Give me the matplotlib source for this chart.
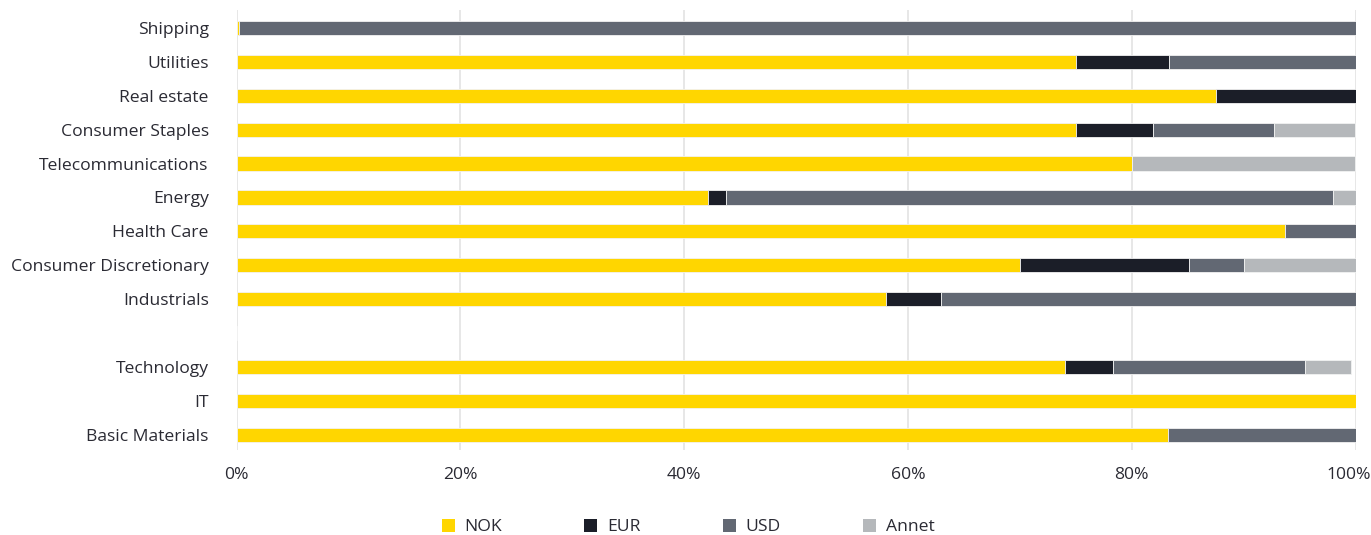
import matplotlib
matplotlib.use("Agg")
import matplotlib.pyplot as plt
import matplotlib.transforms as mtransforms
from matplotlib.patches import Patch
import numpy as np

plt.rcParams['font.family'] = ['Open Sans', 'DejaVu Sans']

sectors = ["Shipping", "Utilities", "Real estate", "Consumer Staples", "Telecommunications",
           "Energy", "Health Care", "Consumer Discretionary", "Industrials", "",
           "Technology", "IT", "Basic Materials"]
nok = [0.2, 75.0, 87.5, 75.0, 80.0, 42.1, 93.7, 70.0, 58.0, 0, 74.0, 100.0, 83.2]
eur = [0.0, 8.3, 12.5, 6.9, 0.0, 1.6, 0.0, 15.1, 5.0, 0, 4.3, 0.0, 0.0]
usd = [99.8, 16.7, 0.0, 10.8, 0.0, 54.3, 6.3, 4.9, 37.0, 0, 17.2, 0.0, 16.8]
annet = [0.0, 0.0, 0.0, 7.3, 20.0, 2.2, 0.0, 10.0, 0.0, 0, 4.1, 0.0, 0.0]
series = ["NOK", "EUR", "USD", "Annet"]
colors = ["#FFD600", "#1B1E28", "#626873", "#B5B8BB"]
xticks = [0, 20, 40, 60, 80, 100]

FS = 12.6
TXT = "#2A2A33"

fig = plt.figure(figsize=(13.71, 5.35), dpi=100)
ax = fig.add_axes([236.5 / 1371, 1 - 450 / 535, (1355.5 - 236.5) / 1371, 440 / 535])

y = np.arange(len(sectors))
left = np.zeros(len(sectors))
for vals, col in zip([nok, eur, usd, annet], colors):
    v = np.array(vals, dtype=float)
    ax.barh(y, v, left=left, height=0.42, color=col, edgecolor="#F2F2F2", linewidth=0.6, zorder=3)
    left += v

ax.set_xlim(0, 100)
ax.set_ylim(12.45, -0.53)
ax.set_yticks(y)
ax.set_yticklabels(sectors, fontsize=FS, color=TXT)
ax.set_xticks(xticks)
ax.set_xticklabels([f"{t}%" for t in xticks], fontsize=FS, color=TXT)
ax.tick_params(axis="both", length=0)
ax.tick_params(axis="y", pad=20)
ax.tick_params(axis="x", pad=12)
# nudge the right-most tick label so it stays inside the canvas
lbl = ax.get_xticklabels()[-1]
lbl.set_transform(lbl.get_transform() + mtransforms.ScaledTranslation(-5 / 72, 0, fig.dpi_scale_trans))
ax.grid(axis="x", color="#E3E3E3", linewidth=1.2, zorder=0)
for s in ax.spines.values():
    s.set_visible(False)

handles = [Patch(facecolor=c, edgecolor="none") for c in colors]
fig.legend(handles, series, loc="center", bbox_to_anchor=(688 / 1371, 1 - 527 / 535),
           ncol=4, frameon=False, fontsize=FS, handlelength=0.75, handleheight=0.75,
           handletextpad=0.55, columnspacing=4.7, labelcolor=TXT)

fig.savefig("out.png", dpi=100, facecolor="white")
